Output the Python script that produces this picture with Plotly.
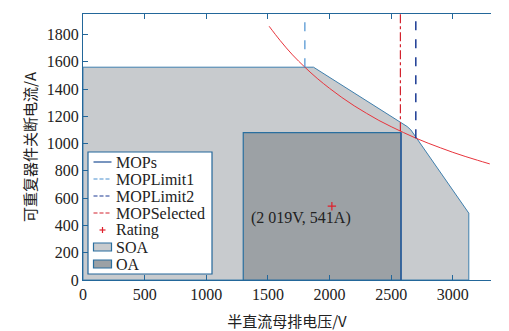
import plotly.graph_objects as go

# Safe operating area (SOA) outline, V / A
soa_v = [0, 0, 1870, 2630, 2660, 3130, 3130, 0]
soa_i = [0, 1560, 1560, 1125, 1100, 490, 0, 0]

# Operating area (OA) rectangle, V / A
oa_v = [1300, 1300, 2580, 2580, 1300]
oa_i = [0, 1080, 1080, 0, 0]

# Constant-power boundary curve, V / A
curve_v = [1510, 1600, 1700, 1800, 1900, 2000, 2100, 2200, 2300, 2400,
           2500, 2600, 2700, 2800, 2900, 3000, 3100, 3200, 3300]
curve_i = [1860, 1755, 1650, 1560, 1478, 1405, 1338, 1277, 1222, 1170,
           1124, 1081, 1040, 1003, 969, 936, 906, 878, 851]

# Vertical limit lines: (voltage, lower current, upper current)
mop_v, mop_lo, mop_hi = 2580, 0, 1080
lim1_v, lim1_lo, lim1_hi = 1800, 1560, 1950
lim2_v, lim2_lo, lim2_hi = 2700, 1040, 1950
sel_v, sel_lo, sel_hi = 2575, 1090, 1950

# Rated point
rating_v, rating_i = 2019, 541
rating_label = "(2 019V, 541A)"

x_ticks = [0, 500, 1000, 1500, 2000, 2500, 3000]
y_ticks = [0, 200, 400, 600, 800, 1000, 1200, 1400, 1600, 1800]

legend_names = ["MOPs", "MOPLimit1", "MOPLimit2", "MOPSelected", "Rating", "SOA", "OA"]

AXIS_BLUE = "#23679a"
TEXT = "#222222"
SERIF = "Times New Roman"
CJK = "Noto Sans CJK SC"

C_SOA_FILL, C_SOA_LINE = "#c8cbce", "#3f7fad"
C_OA_FILL, C_OA_LINE = "#9ca1a5", "#2a6f9f"
C_MOP = "#1f4f95"
C_LIM1 = "#4a90d0"
C_LIM2 = "#1c3b94"
C_SEL = "#d3232e"
C_RATING = "#e0202c"

# plot area geometry in pixels (figure is 509 x 331)
W, H = 509, 331
ML, MR, MT, MB = 83, 18, 14, 51
PW, PH = W - ML - MR, H - MT - MB


def px(x):
    return (x - ML) / PW


def py(y):
    return (H - MB - y) / PH


fig = go.Figure()

fig.add_trace(go.Scatter(
    x=soa_v, y=soa_i, name="SOA", mode="lines", fill="toself",
    fillcolor=C_SOA_FILL, line=dict(color=C_SOA_LINE, width=1),
    showlegend=False, hoverinfo="skip"))
fig.add_trace(go.Scatter(
    x=oa_v, y=oa_i, name="OA", mode="lines", fill="toself",
    fillcolor=C_OA_FILL, line=dict(color=C_OA_LINE, width=1.2),
    showlegend=False, hoverinfo="skip"))
fig.add_trace(go.Scatter(
    x=curve_v, y=curve_i, mode="lines", showlegend=False,
    line=dict(color="#e8343c", width=1), line_shape="spline"))
fig.add_trace(go.Scatter(
    x=[mop_v, mop_v], y=[mop_lo, mop_hi], name="MOPs", mode="lines",
    line=dict(color=C_MOP, width=1.2), showlegend=False))
fig.add_trace(go.Scatter(
    x=[lim1_v, lim1_v], y=[lim1_lo, lim1_hi], name="MOPLimit1", mode="lines",
    line=dict(color=C_LIM1, width=1.2, dash="dash"), showlegend=False))
fig.add_trace(go.Scatter(
    x=[lim2_v, lim2_v], y=[lim2_lo, lim2_hi], name="MOPLimit2", mode="lines",
    line=dict(color=C_LIM2, width=1.5, dash="dash"), showlegend=False))
fig.add_trace(go.Scatter(
    x=[sel_v, sel_v], y=[sel_lo, sel_hi], name="MOPSelected", mode="lines",
    line=dict(color=C_SEL, width=1.2, dash="dashdot"), showlegend=False))
fig.add_trace(go.Scatter(
    x=[rating_v], y=[rating_i], name="Rating", mode="markers",
    marker=dict(symbol="cross-thin", size=6, color=C_RATING,
                line=dict(color=C_RATING, width=1.2)),
    showlegend=False))

fig.add_annotation(
    x=rating_v, y=rating_i, text=rating_label, showarrow=False,
    xanchor="center", yanchor="middle", xshift=-31, yshift=-12,
    font=dict(family=SERIF, size=16, color=TEXT))

# legend box drawn in paper coordinates
shapes = [dict(type="rect", xref="paper", yref="paper",
               x0=px(88), x1=px(212), y0=py(274), y1=py(152),
               fillcolor="white", line=dict(color=AXIS_BLUE, width=1.2),
               layer="above")]
row_y = [162, 179, 196, 213, 230, 247, 264]
sym_x0, sym_x1, text_x = 93.5, 111.5, 113.5
line_styles = {
    "MOPs": (C_MOP, "solid"),
    "MOPLimit1": (C_LIM1, "4px,2px"),
    "MOPLimit2": (C_LIM2, "4px,2px"),
    "MOPSelected": (C_SEL, "4px,2px"),
}
for name, yy in zip(legend_names, row_y):
    if name in line_styles:
        col, dash = line_styles[name]
        shapes.append(dict(type="line", xref="paper", yref="paper",
                           x0=px(sym_x0), x1=px(sym_x1), y0=py(yy), y1=py(yy),
                           line=dict(color=col, width=1.2, dash=dash), layer="above"))
    elif name == "Rating":
        cx = (sym_x0 + sym_x1) / 2
        shapes.append(dict(type="line", xref="paper", yref="paper",
                           x0=px(cx - 3), x1=px(cx + 3), y0=py(yy), y1=py(yy),
                           line=dict(color=C_RATING, width=1.2), layer="above"))
        shapes.append(dict(type="line", xref="paper", yref="paper",
                           x0=px(cx), x1=px(cx), y0=py(yy - 3), y1=py(yy + 3),
                           line=dict(color=C_RATING, width=1.2), layer="above"))
    else:
        fill = C_SOA_FILL if name == "SOA" else C_OA_FILL
        shapes.append(dict(type="rect", xref="paper", yref="paper",
                           x0=px(sym_x0), x1=px(sym_x1), y0=py(yy + 4), y1=py(yy - 4),
                           fillcolor=fill, line=dict(color=C_OA_LINE, width=1.2),
                           layer="above"))
    fig.add_annotation(
        xref="paper", yref="paper", x=px(text_x), y=py(yy), text=name,
        showarrow=False, xanchor="left", yanchor="middle",
        font=dict(family=SERIF, size=16, color=TEXT))

fig.update_layout(
    width=W, height=H,
    margin=dict(l=ML, r=MR, t=MT, b=MB),
    paper_bgcolor="white", plot_bgcolor="white",
    font=dict(family=SERIF, size=16, color=TEXT),
    showlegend=False,
    shapes=shapes,
    xaxis=dict(
        range=[0, 3310], tickvals=x_ticks, showgrid=False, zeroline=False,
        showline=True, linecolor=AXIS_BLUE, linewidth=1.2, mirror="ticks",
        ticks="inside", ticklen=5, tickcolor=AXIS_BLUE, automargin=False,
        tickfont=dict(family=SERIF, size=16, color=TEXT),
        title=dict(text="半直流母排电压/V", standoff=14,
                   font=dict(family=CJK, size=15, color=TEXT))),
    yaxis=dict(
        range=[0, 1950], tickvals=y_ticks, showgrid=False, zeroline=False,
        showline=True, linecolor=AXIS_BLUE, linewidth=1.2, mirror=False,
        ticks="inside", ticklen=5, tickcolor=AXIS_BLUE, automargin=False,
        tickfont=dict(family=SERIF, size=16, color=TEXT),
        title=dict(text="可重复器件关断电流/A", standoff=6,
                   font=dict(family=CJK, size=15, color=TEXT))),
)

fig.write_html("out.html")
